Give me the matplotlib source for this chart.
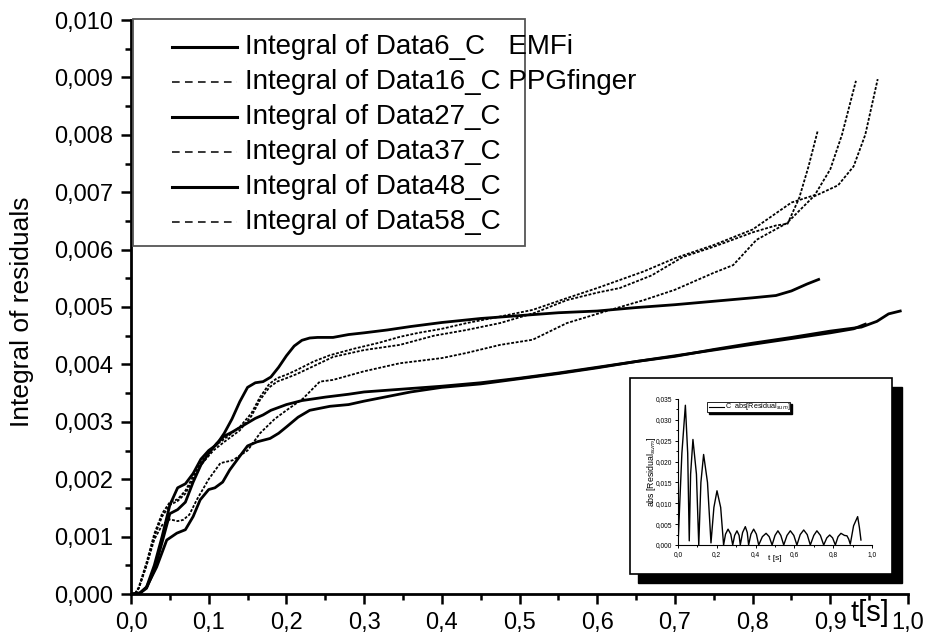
import numpy as np
import matplotlib
matplotlib.use('Agg')
import matplotlib.pyplot as plt
import matplotlib.ticker as ticker
from matplotlib.patches import Rectangle
from matplotlib.lines import Line2D

plt.rcParams['font.family'] = ['Liberation Sans', 'DejaVu Sans']

# values of y in units of 1e-3
x_d6 = [0.0, 0.01, 0.02, 0.03, 0.04, 0.05, 0.06, 0.07, 0.08, 0.09, 0.10, 0.11, 0.12, 0.13, 0.14,
        0.15, 0.16, 0.17, 0.18, 0.19, 0.20, 0.21, 0.22, 0.23, 0.24, 0.26, 0.28, 0.30, 0.33, 0.36,
        0.40, 0.45, 0.50, 0.55, 0.60, 0.65, 0.70, 0.75, 0.80, 0.83, 0.85, 0.87, 0.885]
y_d6 = [0, 0, 0.12, 0.5, 1.0, 1.55, 1.85, 1.92, 2.1, 2.35, 2.5, 2.6, 2.8, 3.05, 3.35,
        3.6, 3.68, 3.7, 3.78, 3.95, 4.15, 4.32, 4.42, 4.46, 4.47, 4.47, 4.52, 4.55, 4.6, 4.66,
        4.73, 4.8, 4.85, 4.9, 4.93, 4.99, 5.04, 5.1, 5.16, 5.2, 5.28, 5.4, 5.48]

x_d16 = [0, 0.005, 0.01, 0.02, 0.03, 0.04, 0.05, 0.06, 0.07, 0.08, 0.09, 0.106, 0.12, 0.14, 0.155,
         0.166, 0.178, 0.188, 0.2, 0.213, 0.235, 0.256, 0.286, 0.32, 0.346, 0.37, 0.4, 0.432, 0.47,
         0.517, 0.56, 0.6, 0.629, 0.66, 0.7, 0.75, 0.8, 0.85, 0.88, 0.9, 0.915, 0.933]
y_d16 = [0, 0, 0.12, 0.55, 1.05, 1.4, 1.6, 1.65, 1.8, 2.05, 2.3, 2.56, 2.7, 2.91, 3.15,
         3.43, 3.66, 3.76, 3.82, 3.9, 4.05, 4.16, 4.27, 4.38, 4.48, 4.55, 4.62, 4.72, 4.82,
         4.95, 5.15, 5.33, 5.47, 5.62, 5.85, 6.08, 6.35, 6.82, 6.95, 7.4, 8.0, 8.94]

x_d27 = [0, 0.01, 0.02, 0.03, 0.04, 0.05, 0.06, 0.07, 0.08, 0.09, 0.10, 0.11, 0.12, 0.13, 0.14,
         0.15, 0.16, 0.17, 0.18, 0.20, 0.22, 0.25, 0.28, 0.30, 0.33, 0.36, 0.40, 0.45, 0.50,
         0.55, 0.60, 0.65, 0.70, 0.75, 0.80, 0.85, 0.90, 0.93, 0.945]
y_d27 = [0, 0, 0.1, 0.42, 0.9, 1.4, 1.47, 1.6, 1.95, 2.25, 2.45, 2.62, 2.75, 2.82, 2.9,
         2.98, 3.06, 3.12, 3.2, 3.3, 3.37, 3.43, 3.48, 3.52, 3.55, 3.58, 3.62, 3.68, 3.76,
         3.85, 3.95, 4.05, 4.15, 4.25, 4.35, 4.45, 4.55, 4.62, 4.70]

x_d37 = [0, 0.005, 0.01, 0.02, 0.03, 0.04, 0.05, 0.06, 0.07, 0.08, 0.09, 0.106, 0.12, 0.14, 0.155,
         0.166, 0.178, 0.188, 0.2, 0.213, 0.235, 0.26, 0.3, 0.346, 0.39, 0.432, 0.475, 0.52, 0.561,
         0.6, 0.629, 0.67, 0.71, 0.75, 0.8, 0.83, 0.845, 0.86, 0.872, 0.884]
y_d37 = [0, 0, 0.1, 0.5, 1.0, 1.35, 1.55, 1.62, 1.75, 2.0, 2.25, 2.5, 2.65, 2.85, 3.1,
         3.38, 3.6, 3.7, 3.76, 3.83, 3.97, 4.13, 4.25, 4.34, 4.5, 4.6, 4.72, 4.9, 5.12,
         5.25, 5.33, 5.55, 5.87, 6.05, 6.3, 6.42, 6.45, 6.9, 7.45, 8.08]

x_d48 = [0, 0.012, 0.02, 0.033, 0.046, 0.059, 0.07, 0.08, 0.089, 0.1, 0.108, 0.118, 0.127, 0.14,
         0.15, 0.162, 0.179, 0.19, 0.2, 0.215, 0.23, 0.256, 0.28, 0.3, 0.33, 0.36, 0.4, 0.45,
         0.5, 0.55, 0.6, 0.65, 0.7, 0.75, 0.8, 0.85, 0.9, 0.94, 0.96, 0.975, 0.99]
y_d48 = [0, 0.02, 0.12, 0.47, 0.94, 1.06, 1.12, 1.35, 1.64, 1.82, 1.85, 1.95, 2.16, 2.4,
         2.58, 2.65, 2.71, 2.8, 2.91, 3.08, 3.2, 3.27, 3.3, 3.36, 3.44, 3.52, 3.6, 3.66,
         3.75, 3.84, 3.94, 4.05, 4.14, 4.26, 4.37, 4.47, 4.58, 4.65, 4.75, 4.88, 4.93]

x_d58 = [0, 0.005, 0.01, 0.02, 0.03, 0.04, 0.05, 0.06, 0.067, 0.075, 0.085, 0.1, 0.115, 0.131,
         0.15, 0.166, 0.185, 0.2, 0.221, 0.243, 0.26, 0.3, 0.346, 0.4, 0.432, 0.475, 0.517,
         0.561, 0.617, 0.66, 0.7, 0.749, 0.775, 0.805, 0.844, 0.878, 0.91, 0.93, 0.945, 0.961]
y_d58 = [0, 0, 0.1, 0.5, 0.95, 1.2, 1.3, 1.27, 1.29, 1.38, 1.65, 2.0, 2.28, 2.33,
         2.5, 2.8, 3.05, 3.2, 3.4, 3.7, 3.73, 3.88, 4.02, 4.11, 4.2, 4.34, 4.43,
         4.72, 4.95, 5.12, 5.3, 5.59, 5.73, 6.17, 6.46, 6.92, 7.12, 7.45, 8.0, 8.97]

labels = ['Integral of Data6_C   EMFi', 'Integral of Data16_C PPGfinger', 'Integral of Data27_C',
          'Integral of Data37_C', 'Integral of Data48_C', 'Integral of Data58_C']
dashed = [False, True, False, True, False, True]
series = [(x_d6, y_d6), (x_d16, y_d16), (x_d27, y_d27), (x_d37, y_d37), (x_d48, y_d48), (x_d58, y_d58)]

# inset: abs residual, y in units of 1e-3
x_res = [0.0, 0.02, 0.038, 0.05, 0.058, 0.065, 0.077, 0.095, 0.107, 0.118, 0.132, 0.152, 0.17,
         0.185, 0.201, 0.22, 0.235, 0.245, 0.258, 0.272, 0.282, 0.292, 0.304, 0.315, 0.321, 0.333,
         0.347, 0.357, 0.364, 0.376, 0.39, 0.404, 0.416, 0.435, 0.454, 0.47, 0.485, 0.5, 0.515,
         0.53, 0.545, 0.562, 0.579, 0.597, 0.613, 0.63, 0.648, 0.666, 0.682, 0.7, 0.716, 0.734,
         0.751, 0.767, 0.782, 0.797, 0.811, 0.825, 0.84, 0.858, 0.871, 0.88, 0.888, 0.905, 0.926,
         0.935, 0.943]
y_res = [0, 22, 33.5, 22, 1.0, 17, 25.3, 17, 0, 15, 21.7, 15, 0.5, 9, 13, 9, 0, 2.6, 3.8, 2.6,
         0, 2.3, 3.4, 2.3, 0, 3.0, 4.4, 3.0, 0, 2.6, 3.8, 2.6, 0, 2.0, 2.8, 2.0, 0, 2.3, 3.4,
         2.3, 0, 2.3, 3.4, 2.3, 0, 2.5, 3.6, 2.5, 0, 2.3, 3.4, 2.3, 0, 1.7, 2.4, 1.7, 0, 2.0,
         2.8, 2.3, 2.2, 1.4, 0.2, 4.6, 6.8, 4.2, 1.2]

W, H = 927, 641


def fx(px):
    return px / W


def fy(py):
    return 1 - py / H


fig = plt.figure(figsize=(9.27, 6.41), dpi=100)
ax = fig.add_axes([fx(131), fy(594), (908 - 131) / W, (594 - 20) / H])

for (xs, ys), dsh in zip(series, dashed):
    ys = np.array(ys) * 1e-3
    if dsh:
        ax.plot(xs, ys, color='black', lw=1.3, ls=(0, (1.6, 0.9)))
    else:
        ax.plot(xs, ys, color='black', lw=2.0)

ax.set_xlim(0, 1.0)
ax.set_ylim(0, 0.010)
for s in ['top', 'right']:
    ax.spines[s].set_visible(False)
for s in ['left', 'bottom']:
    ax.spines[s].set_linewidth(2)
ax.xaxis.set_major_locator(ticker.MultipleLocator(0.1))
ax.xaxis.set_minor_locator(ticker.MultipleLocator(0.05))
ax.yaxis.set_major_locator(ticker.MultipleLocator(0.001))
ax.yaxis.set_minor_locator(ticker.MultipleLocator(0.0005))
ax.xaxis.set_major_formatter(ticker.FuncFormatter(lambda v, p: f'{v:.1f}'.replace('.', ',')))
ax.yaxis.set_major_formatter(ticker.FuncFormatter(lambda v, p: f'{v:.3f}'.replace('.', ',')))
ax.tick_params(which='major', direction='out', length=7, width=1.8, labelsize=17, pad=6)
ax.tick_params(which='minor', direction='out', length=4, width=1.8)

fig.text(fx(22), fy(312), 'Integral of residuals', rotation=90, ha='center', va='center', fontsize=19)
fig.text(fx(870), fy(613), 't[s]', ha='center', va='center', fontsize=21)

# legend drawn by hand (Origin style box, text runs past the frame)
fig.patches.append(Rectangle((fx(133), fy(246)), (525 - 133) / W, (246 - 19) / H,
                             transform=fig.transFigure, facecolor='white', edgecolor='#555555',
                             lw=1.3, zorder=2))
for i, (lab, dsh) in enumerate(zip(labels, dashed)):
    yy = fy(47 + 35 * i)
    if dsh:
        ln = Line2D([fx(172), fx(237)], [yy, yy], transform=fig.transFigure, color='black',
                    lw=1.1, ls=(0, (5, 3.5)), zorder=3)
    else:
        ln = Line2D([fx(172), fx(237)], [yy, yy], transform=fig.transFigure, color='black',
                    lw=2.2, zorder=3)
    fig.lines.append(ln)
    fig.text(fx(245), yy, lab, ha='left', va='center', fontsize=20, zorder=3)

# inset frame with shadow
fig.patches.append(Rectangle((fx(638), fy(583)), (902 - 638) / W, (583 - 387) / H,
                             transform=fig.transFigure, facecolor='black', edgecolor='black', zorder=2))
fig.patches.append(Rectangle((fx(630), fy(574)), (892 - 630) / W, (574 - 378) / H,
                             transform=fig.transFigure, facecolor='white', edgecolor='black',
                             lw=1.2, zorder=3))

ins = fig.add_axes([fx(678), fy(545), (872 - 678) / W, (545 - 399) / H])
ins.set_zorder(5)
ins.patch.set_alpha(0)
ins.plot(x_res, np.array(y_res) * 1e-3, color='black', lw=1.0)
ins.set_xlim(0, 1.0)
ins.set_ylim(0, 0.035)
for s in ['top', 'right']:
    ins.spines[s].set_visible(False)
for s in ['left', 'bottom']:
    ins.spines[s].set_linewidth(0.8)
ins.xaxis.set_major_locator(ticker.MultipleLocator(0.2))
ins.xaxis.set_minor_locator(ticker.MultipleLocator(0.1))
ins.yaxis.set_major_locator(ticker.MultipleLocator(0.005))
ins.yaxis.set_minor_locator(ticker.MultipleLocator(0.0025))
ins.xaxis.set_major_formatter(ticker.FuncFormatter(lambda v, p: f'{v:.1f}'.replace('.', ',')))
ins.yaxis.set_major_formatter(ticker.FuncFormatter(lambda v, p: f'{v:.3f}'.replace('.', ',')))
ins.tick_params(which='major', direction='out', length=2.5, width=0.7, labelsize=4.8, pad=1.5)
ins.tick_params(which='minor', direction='out', length=1.5, width=0.7)
ins.text(0.5, -0.095, 't [s]', transform=ins.transAxes, ha='center', va='center', fontsize=6)
fig.text(fx(651), fy(472), r'abs [Residual$_{sum}$]', rotation=90, ha='center', va='center',
         fontsize=6.3, zorder=6)

# inset legend box
fig.patches.append(Rectangle((fx(709), fy(414)), (792 - 709) / W, (414 - 404) / H,
                             transform=fig.transFigure, facecolor='black', edgecolor='black', zorder=4))
fig.patches.append(Rectangle((fx(707), fy(412)), (790 - 707) / W, (412 - 402) / H,
                             transform=fig.transFigure, facecolor='white', edgecolor='black',
                             lw=0.6, zorder=4.5))
fig.lines.append(Line2D([fx(709), fx(724)], [fy(407), fy(407)], transform=fig.transFigure,
                        color='black', lw=0.8, zorder=6))
fig.text(fx(725), fy(407), r'C  abs[Residual$_{sum}$]', ha='left', va='center', fontsize=5.2, zorder=6)

plt.savefig('out.png', dpi=100)
